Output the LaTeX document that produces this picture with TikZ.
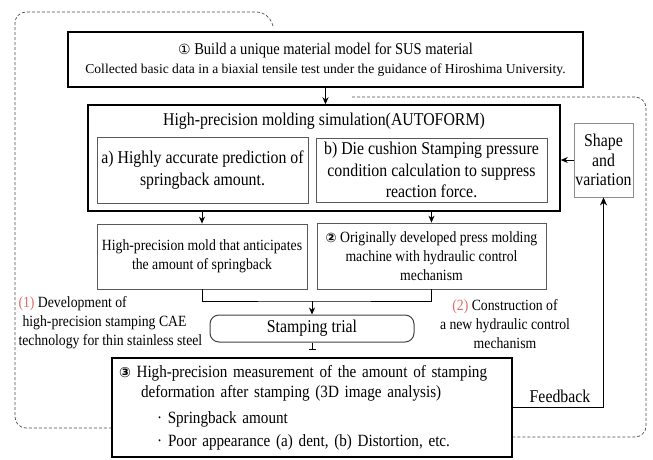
\documentclass[tikz,border=0pt]{standalone}
\usepackage{fontspec}
\setmainfont{Liberation Serif}[FakeStretch=0.88]
\newfontfamily\plainrm{Liberation Serif}
\newfontfamily\circnum{DejaVu Sans}
\usetikzlibrary{arrows.meta}
\definecolor{notered}{RGB}{225,105,105}

\begin{document}
\begin{tikzpicture}[x=1pt,y=-1pt,
    heavy/.style={draw,line width=1.5pt,inner sep=0pt},
    light/.style={draw=black!65,line width=0.8pt,inner sep=0pt,align=center},
    big/.style={font=\fontsize{18}{21.5}\selectfont},
    mid/.style={font=\fontsize{15.6}{19}\selectfont},
    loop/.style={draw=black!70,line width=0.7pt,dash pattern=on 3pt off 2pt,rounded corners=11pt},
    link/.style={line width=0.9pt,-{Stealth[length=7pt,width=6pt]}}]
  \useasboundingbox (0,0) rectangle (653,459);
  \draw[loop] (273,26) -- (268,12) -- (15,12) -- (15,428) -- (112,428);
  \draw[loop] (352,97) -- (646,97) -- (646,437) -- (512,437);
  \node[heavy,align=center,minimum width=515pt,minimum height=55pt] (model) at (325.5,59.5)
    {\fontsize{16.5}{21}\selectfont{\circnum\fontsize{14}{14}\selectfont ①} Build a unique material model for SUS material\\[5pt]
     {\plainrm\fontsize{13.6}{16}\selectfont Collected basic data in a biaxial tensile test under the guidance of Hiroshima University.}};
  \node[heavy,minimum width=472pt,minimum height=106pt] (sim) at (324,158) {};
  \node[big] (simtitle) at (324,121) {High-precision molding simulation(AUTOFORM)};
  \node[light,big,minimum width=211pt,minimum height=66pt] (preda) at (202.5,170)
    {a) Highly accurate prediction of\\springback amount.};
  \node[light,big,minimum width=231pt,minimum height=64pt] (predb) at (431.5,170)
    {b) Die cushion Stamping pressure\\condition calculation to suppress\\reaction force.};
  \node[light,draw=black!45,font=\fontsize{18}{19.5}\selectfont,minimum width=59pt,minimum height=74pt] (shape) at (603.5,160)
    {Shape\\and\\variation};
  \node[light,mid,minimum width=210pt,minimum height=65pt] (mold) at (202,256.5)
    {High-precision mold that anticipates\\the amount of springback};
  \node[light,mid,minimum width=229pt,minimum height=66pt] (press) at (431.5,256)
    {{\circnum\bfseries\fontsize{13}{13}\selectfont ②} Originally developed press molding\\machine with hydraulic control\\mechanism};
  \node[draw=black!75,line width=1pt,rounded corners=9pt,big,minimum width=204pt,minimum height=27pt] (trial) at (312,328.5)
    {Stamping trial};
  \node[heavy,align=left,font=\fontsize{17.2}{21}\selectfont,text width=386pt,inner xsep=7pt,minimum width=400pt,minimum height=99pt] (meas) at (312,407.5)
    {{\circnum\bfseries\fontsize{14}{14}\selectfont ③} High-precision measurement of the amount of stamping\\[-1pt]
     \hspace*{22pt}deformation after stamping (3D image analysis)\\[5pt]
     \hspace*{38pt}· Springback amount\\[2pt]
     \hspace*{38pt}·\hspace{6pt}Poor appearance (a) dent, (b) Distortion, etc.};
  \node[mid,align=left,anchor=west] (cae) at (15,323)
    {{\color{notered}(1)} Development of\\\hspace*{4pt}high-precision stamping CAE\\technology for thin stainless steel};
  \node[mid,align=center] (hyd) at (505,324)
    {{\color{notered}(2)} Construction of\\a new hydraulic control\\mechanism};
  \node[big] (fb) at (560,396) {Feedback};
  \draw[link] (model.south) -- (model.south |- sim.north);
  \draw[link] (shape.west) -- (sim.east |- shape.west);
  \draw[link] (sim.south -| mold.north) -- (mold.north);
  \draw[link] (sim.south -| press.north) -- (press.north);
  \coordinate (join) at (312,301);
  \draw[line width=0.9pt] (mold.south) |- (join) -| (press.south);
  \draw[link] (join) -- (trial.north);
  \draw[line width=0.9pt,-{Bar[width=7pt]},shorten >=7pt] (trial.south) -- (meas.north);
  \draw[line width=1.6pt,-{Stealth[length=8pt,width=7pt]}] (meas.east) -| (shape.south);
\end{tikzpicture}
\end{document}
